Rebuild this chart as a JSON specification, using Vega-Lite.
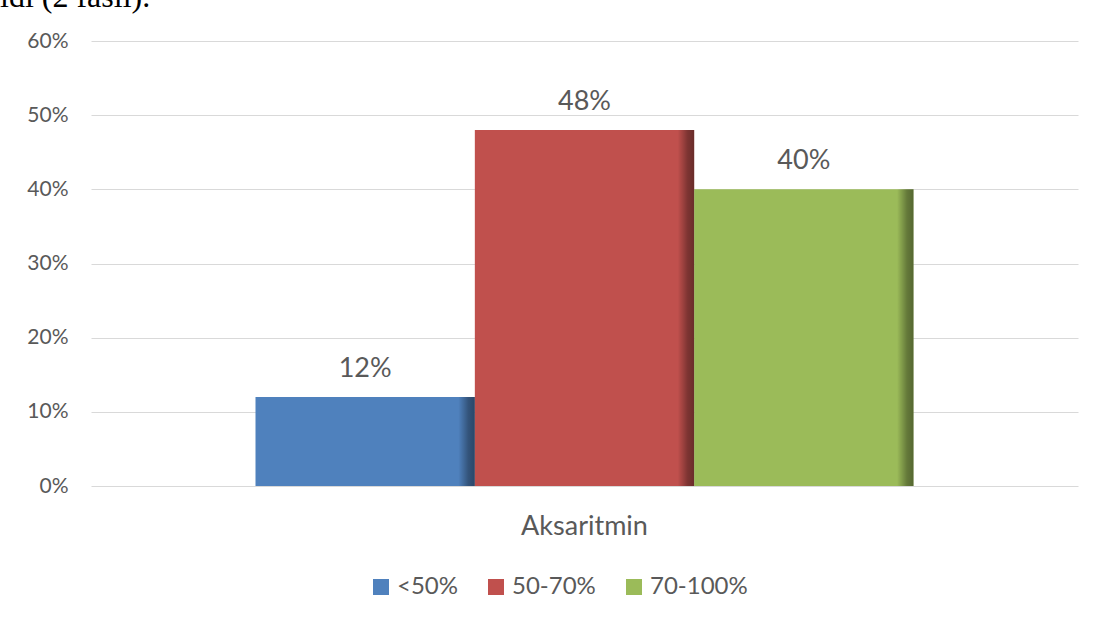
{
  "$schema": "https://vega.github.io/schema/vega-lite/v6.json",
  "autosize": {"type": "none"},
  "padding": {"left": 91, "top": 41, "right": 17, "bottom": 132},
  "width": 987,
  "height": 445,
  "background": "white",
  "title": {
    "text": "ıdı (2 fasıl).",
    "anchor": "start",
    "frame": "group",
    "font": "Liberation Serif",
    "fontSize": 32,
    "fontWeight": "normal",
    "color": "#000000",
    "baseline": "alphabetic",
    "offset": 0,
    "dy": 9,
    "dx": -91
  },
  "config": {
    "view": {"stroke": null},
    "font": "Lato"
  },
  "data": {
    "values": [
      {"category": "Aksaritmin", "group": "<50%", "value": 0.12},
      {"category": "Aksaritmin", "group": "50-70%", "value": 0.48},
      {"category": "Aksaritmin", "group": "70-100%", "value": 0.40}
    ]
  },
  "encoding": {
    "x": {
      "field": "category",
      "type": "nominal",
      "scale": {"paddingInner": 0, "paddingOuter": 0.25},
      "axis": {
        "title": null,
        "labelAngle": 0,
        "domain": false,
        "ticks": false,
        "labelFontSize": 27,
        "labelFont": "Lato",
        "labelColor": "#595959",
        "labelPadding": 27
      }
    },
    "xOffset": {
      "field": "group",
      "type": "nominal",
      "sort": ["<50%", "50-70%", "70-100%"],
      "scale": {"paddingInner": 0, "paddingOuter": 0}
    },
    "y": {
      "field": "value",
      "type": "quantitative",
      "scale": {"domain": [0, 0.6]},
      "axis": {
        "title": null,
        "values": [0, 0.1, 0.2, 0.3, 0.4, 0.5, 0.6],
        "format": ".0%",
        "domain": false,
        "ticks": false,
        "grid": true,
        "gridColor": "#d9d9d9",
        "gridWidth": 1.2,
        "labelPadding": 23,
        "labelFontSize": 21,
        "labelFont": "Lato",
        "labelColor": "#595959"
      }
    }
  },
  "layer": [
    {
      "mark": {"type": "bar"},
      "encoding": {
        "color": {
          "field": "group",
          "type": "nominal",
          "sort": ["<50%", "50-70%", "70-100%"],
          "scale": {"range": ["#4F81BD", "#C0504D", "#9BBB59"]},
          "legend": {
            "title": null,
            "orient": "none",
            "direction": "horizontal",
            "legendX": 278,
            "legendY": 534,
            "padding": 0,
            "symbolType": "square",
            "symbolSize": 256,
            "symbolStrokeWidth": 0,
            "labelFontSize": 24,
            "labelFont": "Lato",
            "labelColor": "#595959",
            "labelOffset": 4,
            "columnPadding": 26
          }
        }
      }
    },
    {
      "mark": {
        "type": "bar",
        "color": {
          "gradient": "linear",
          "x1": 0, "x2": 1, "y1": 0, "y2": 0,
          "stops": [
            {"offset": 0, "color": "rgba(0,0,0,0)"},
            {"offset": 0.925, "color": "rgba(0,0,0,0)"},
            {"offset": 0.97, "color": "rgba(0,0,0,0.35)"},
            {"offset": 1, "color": "rgba(0,0,0,0.45)"}
          ]
        }
      }
    },
    {
      "mark": {
        "type": "text",
        "baseline": "alphabetic",
        "dy": -20,
        "fontSize": 27,
        "font": "Lato",
        "color": "#595959"
      },
      "encoding": {
        "text": {"field": "value", "type": "quantitative", "format": ".0%"}
      }
    }
  ]
}
